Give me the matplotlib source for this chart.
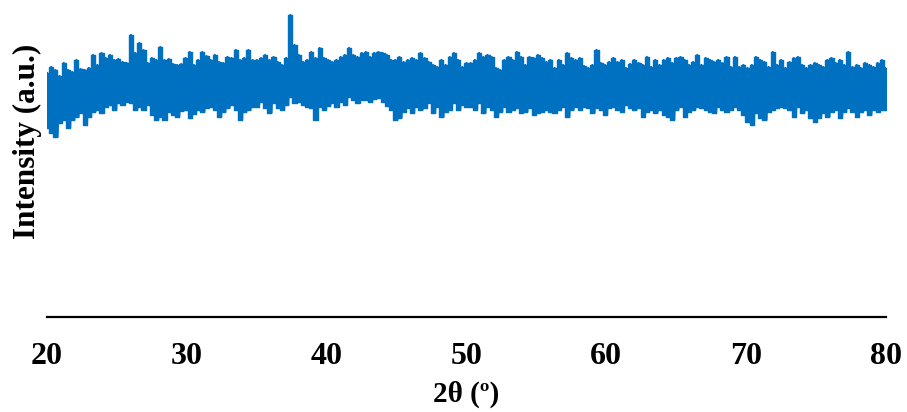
import numpy as np
import matplotlib
matplotlib.use("Agg")
import matplotlib.pyplot as plt

# Scan settings: 2theta from 20 to 80 deg, step 0.3 deg
scan_start = 20.0
scan_step = 0.3

# Local maxima (upper envelope) of the counts, one per step
counts_max = [
    244, 250, 247, 241, 254, 247, 245, 257, 248, 247, 249, 262, 252, 264, 259, 262, 257, 258, 255, 254, 282, 264, 274, 267, 254,
    259, 257, 270, 257, 258, 253, 252, 253, 259, 265, 252, 257, 265, 261, 257, 262, 255, 254, 260, 259, 267, 257, 259, 267, 257,
    257, 259, 262, 257, 260, 255, 252, 259, 302, 272, 262, 255, 257, 265, 259, 269, 259, 257, 255, 257, 260, 262, 269, 262, 260, 264,
    265, 260, 264, 265, 264, 262, 257, 257, 260, 255, 257, 259, 257, 264, 259, 255, 252, 250, 257, 252, 260, 264, 257, 250, 254,
    254, 257, 264, 260, 262, 260, 249, 247, 257, 260, 257, 265, 260, 252, 260, 259, 262, 259, 255, 257, 249, 257, 252, 264, 259,
    257, 259, 251, 249, 252, 267, 254, 252, 255, 259, 255, 257, 249, 253, 257, 254, 252, 260, 250, 257, 252, 257, 259, 254, 259,
    260, 257, 252, 255, 262, 252, 259, 257, 255, 257, 254, 260, 250, 260, 250, 252, 249, 252, 260, 257, 255, 250, 265, 252, 257, 249,
    255, 259, 260, 252, 249, 252, 254, 252, 250, 257, 259, 254, 257, 252, 265, 250, 252, 249, 254, 252, 250, 254, 257, 249,
]

# Local minima (lower envelope) of the counts, one per step
counts_min = [
    189, 184, 180, 194, 197, 189, 197, 200, 204, 192, 200, 205, 207, 204, 210, 212, 207, 214, 212, 215, 214, 207, 210, 207, 212,
    202, 197, 200, 197, 205, 202, 200, 206, 207, 199, 203, 207, 205, 209, 210, 207, 200, 205, 209, 212, 207, 197, 205, 207, 210,
    210, 215, 209, 204, 214, 209, 207, 212, 220, 214, 215, 212, 210, 209, 197, 210, 207, 211, 214, 210, 215, 212, 220, 217, 214, 217,
    217, 215, 218, 219, 215, 211, 207, 197, 199, 205, 209, 204, 210, 207, 209, 214, 204, 210, 200, 205, 207, 214, 207, 212, 210,
    210, 207, 214, 204, 210, 207, 200, 205, 210, 205, 207, 209, 204, 205, 209, 202, 204, 205, 207, 205, 204, 207, 210, 200, 207,
    210, 207, 210, 209, 204, 209, 207, 202, 209, 210, 207, 205, 212, 209, 207, 209, 200, 205, 207, 204, 207, 202, 200, 197, 207,
    210, 200, 205, 207, 210, 209, 207, 205, 204, 210, 207, 205, 207, 210, 207, 202, 195, 192, 204, 199, 197, 205, 207, 209, 210, 209,
    207, 200, 210, 204, 207, 199, 195, 199, 204, 200, 205, 207, 199, 205, 209, 205, 200, 205, 207, 202, 207, 205, 207, 207,
]

x_ticks = [20, 30, 40, 50, 60, 70, 80]
x_label = "2θ (º)"
y_label = "Intensity (a.u.)"

blue = "#0070C0"
two_theta = scan_start + scan_step * np.arange(len(counts_max))
cmax = np.array(counts_max, dtype=float)
cmin = np.array(counts_min, dtype=float)

fig = plt.figure(figsize=(9.07, 4.12), dpi=100)
W, H = 907, 412
ax = fig.add_axes([47 / W, (H - 317) / H, (886 - 47) / W, (317 - 10) / H])
# solid band between local minima and maxima (skyline shape)
ax.fill_between(two_theta, cmin, cmax, step="mid", facecolor=blue,
                edgecolor=blue, lw=1.0, joinstyle="round")
# thin spikes at each local maximum / minimum
x = np.empty(2 * len(two_theta))
y = np.empty(2 * len(two_theta))
x[0::2] = two_theta
x[1::2] = np.minimum(two_theta + scan_step / 2, 80.0)
y[0::2] = cmax
y[1::2] = cmin
ax.plot(x, y, color=blue, lw=1.6)
ax.set_xlim(20, 80)
ax.set_ylim(0, 307)

for s in ["top", "right", "left"]:
    ax.spines[s].set_visible(False)
ax.spines["bottom"].set_linewidth(1.6)
ax.spines["bottom"].set_color("black")
ax.set_yticks([])
ax.set_xticks(x_ticks)
ax.tick_params(axis="x", length=0, pad=18)
for lbl in ax.get_xticklabels():
    lbl.set_fontfamily("Liberation Serif")
    lbl.set_fontweight("bold")
    lbl.set_fontsize(23)
ax.set_xlabel(x_label, fontfamily="Liberation Serif", fontweight="bold", fontsize=21, labelpad=7)
fig.text(27 / W, 1 - 141 / H, y_label, rotation=90, ha="center", va="center",
         fontfamily="Liberation Serif", fontweight="bold", fontsize=22.5)

fig.savefig("out.png", dpi=100)
